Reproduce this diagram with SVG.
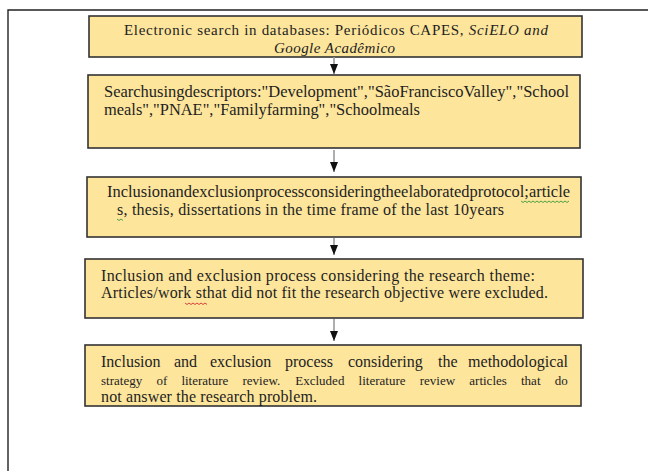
<svg xmlns="http://www.w3.org/2000/svg" width="648" height="471" viewBox="0 0 648 471">
<style>
.box{fill:#fde59c;stroke:#333;stroke-width:1.6}
.t{font-family:"Liberation Serif","Times New Roman",serif;font-size:16px;fill:#1e1e1e}
.h{font-size:15px}
.s{font-size:13px}
.i{font-style:italic}
.c{stroke:#9a9a9a;stroke-width:1.6;fill:none}
.frame{stroke:#222;stroke-width:1.4;fill:none}
.sqg{stroke:#3a9a3a;stroke-width:0.9;fill:none}
.sqr{stroke:#d03030;stroke-width:0.9;fill:none}
</style>
<defs>
<marker id="ah" viewBox="0 0 10 8" refX="10" refY="4" markerWidth="10" markerHeight="8" markerUnits="userSpaceOnUse" orient="auto">
<path d="M0,0 L10,4 L0,8 z" fill="#111"/>
</marker>
</defs>
<rect width="648" height="471" fill="#fff"/>
<path class="frame" d="M648,10 H8 V471"/>
<g id="node1">
<rect class="box" x="89" y="16" width="493" height="41"/>
<text class="t h" x="124" y="35" textLength="424" lengthAdjust="spacing">Electronic search in databases: Periódicos CAPES, <tspan class="i">SciELO and</tspan></text>
<text class="t h i" x="274" y="52.5" textLength="121" lengthAdjust="spacing">Google Acadêmico</text>
</g>
<g id="node2">
<rect class="box" x="88" y="75" width="492" height="73"/>
<text class="t" x="104" y="97" textLength="465" lengthAdjust="spacingAndGlyphs">Searchusingdescriptors:"Development","SãoFranciscoValley","School</text>
<text class="t" x="104" y="115" textLength="316" lengthAdjust="spacingAndGlyphs">meals","PNAE","Familyfarming","Schoolmeals</text>
</g>
<g id="node3">
<rect class="box" x="87" y="177" width="494" height="60"/>
<text class="t" x="107" y="197" textLength="463" lengthAdjust="spacingAndGlyphs">Inclusionandexclusionprocessconsideringtheelaboratedprotocol;article</text>
<text class="t" x="117" y="215" textLength="387" lengthAdjust="spacing">s, thesis, dissertations in the time frame of the last 10years</text>
<path class="sqg" d="M521,201 l2,1.5 l2,-1.5 l2,1.5 l2,-1.5 l2,1.5 l2,-1.5 l2,1.5 l2,-1.5 l2,1.5 l2,-1.5 l2,1.5 l2,-1.5 l2,1.5 l2,-1.5 l2,1.5 l2,-1.5 l2,1.5 l2,-1.5 l2,1.5 l2,-1.5 l2,1.5 l2,-1.5 l2,1.5 l2,-1.5"/>
<path class="sqg" d="M117,219 l2,1.5 l2,-1.5 l2,1.5"/>
</g>
<g id="node4">
<rect class="box" x="85" y="259" width="498" height="59"/>
<text class="t" x="101" y="281" textLength="434" lengthAdjust="spacing">Inclusion and exclusion process considering the research theme:</text>
<text class="t" x="101" y="298" textLength="447" lengthAdjust="spacing">Articles/work sthat did not fit the research objective were excluded.</text>
<path class="sqr" d="M185,303 l2,1.5 l2,-1.5 l2,1.5 l2,-1.5 l2,1.5 l2,-1.5 l2,1.5 l2,-1.5 l2,1.5 l2,-1.5 l2,1.5"/>
</g>
<g id="node5">
<rect class="box" x="85" y="345" width="496" height="61"/>
<text class="t" y="367"><tspan x="101">Inclusion</tspan> <tspan x="174">and</tspan> <tspan x="210">exclusion</tspan> <tspan x="285">process</tspan> <tspan x="348">considering</tspan> <tspan x="438">the</tspan> <tspan x="468" textLength="100" lengthAdjust="spacingAndGlyphs">methodological</tspan></text>
<text class="t s" y="385"><tspan x="101">strategy</tspan> <tspan x="156.4">of</tspan> <tspan x="181.4">literature</tspan> <tspan x="242.5">review.</tspan> <tspan x="295.3">Excluded</tspan> <tspan x="358.6">literature</tspan> <tspan x="419.7">review</tspan> <tspan x="469.3">articles</tspan> <tspan x="521">that</tspan> <tspan x="554.7">do</tspan></text>
<text class="t" x="101" y="402" textLength="216" lengthAdjust="spacing">not answer the research problem.</text>
</g>
<g id="connectors">
<line class="c" x1="334" y1="57" x2="334" y2="74" marker-end="url(#ah)"/>
<line class="c" x1="334" y1="150" x2="334" y2="172" marker-end="url(#ah)"/>
<line class="c" x1="334" y1="238" x2="334" y2="255" marker-end="url(#ah)"/>
<line class="c" x1="334" y1="319" x2="334" y2="341" marker-end="url(#ah)"/>
</g>
</svg>
